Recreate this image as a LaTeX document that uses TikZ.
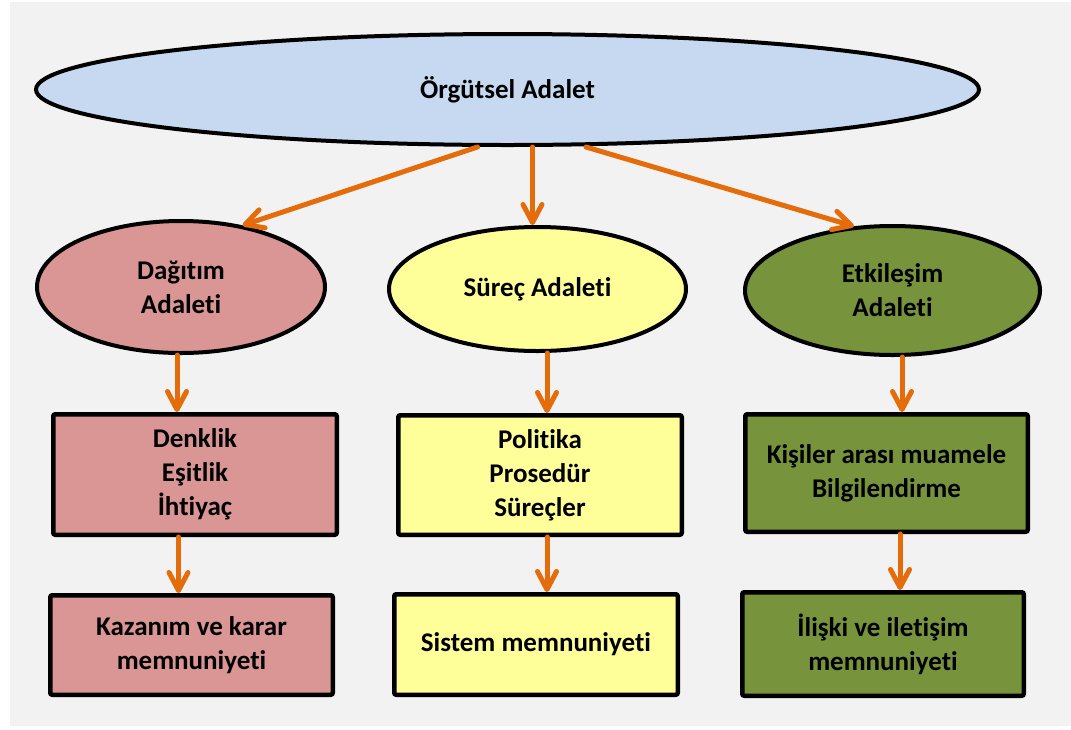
\documentclass[tikz,border=0pt]{standalone}
\usepackage{fontspec}
\setmainfont{Carlito}[Ligatures={NoCommon,NoContextual}]
\usetikzlibrary{shapes.geometric,arrows.meta}

\definecolor{paper}{HTML}{F2F2F2}
\definecolor{skyfill}{HTML}{C6D9F1}
\definecolor{rosefill}{HTML}{D99694}
\definecolor{lemonfill}{HTML}{FFFF99}
\definecolor{olivefill}{HTML}{77933C}
\definecolor{flowline}{HTML}{E46C0A}

\begin{document}
\begin{tikzpicture}[x=1pt,y=-1pt,
  lbl/.style={font=\fontsize{27}{34}\selectfont\bfseries,align=center,text=black},
  oval/.style={ellipse,draw=black,line width=4pt,inner sep=0pt,lbl},
  card/.style={rectangle,draw=black,line width=4.5pt,inner sep=0pt,rounded corners=2pt,lbl},
  flow/.style={draw=flowline,line width=5pt,line cap=round,
    -{Straight Barb[length=18pt,width=19pt,round]}}]

% canvas
\useasboundingbox (0,0) rectangle (1071,729);
\fill[white] (0,0) rectangle (1071,729);
\fill[paper] (10,2) rectangle (1071,726);

% top concept
\node[oval,fill=skyfill,minimum width=943pt,minimum height=111pt] (org) at (507.5,89.5) {Örgütsel Adalet};

% three dimensions
\node[oval,fill=rosefill,minimum width=288pt,minimum height=132pt] (dag) at (181,287) {Dağıtım\\Adaleti};
\node[oval,fill=lemonfill,minimum width=297pt,minimum height=124pt] (sur) at (537.5,289) {Süreç Adaleti};
\node[oval,fill=olivefill,minimum width=295pt,minimum height=129pt] (eti) at (892.5,290.5) {Etkileşim\\Adaleti};

% criteria
\node[card,fill=rosefill,minimum width=283.5pt,minimum height=120.5pt] (dkl) at (195,474.5) {Denklik\\Eşitlik\\İhtiyaç};
\node[card,fill=lemonfill,minimum width=283.5pt,minimum height=119.5pt] (pol) at (540,475) {Politika\\Prosedür\\Süreçler};
\node[card,fill=olivefill,minimum width=282.5pt,minimum height=117.5pt] (kis) at (886.5,473) {Kişiler arası muamele\\Bilgilendirme};

% outcomes
\node[card,fill=rosefill,minimum width=282.5pt,minimum height=99.5pt] (kaz) at (191.5,645) {Kazanım ve karar\\memnuniyeti};
\node[card,fill=lemonfill,minimum width=283.5pt,minimum height=100.5pt] (sis) at (536,644.5) {Sistem memnuniyeti};
\node[card,fill=olivefill,minimum width=281.5pt,minimum height=103.5pt] (ili) at (883,644) {İlişki ve iletişim\\memnuniyeti};

% connectors
\draw[flow] ([xshift=-30pt]org.south) -- (dag.45);
\draw[flow] ([xshift=25pt]org.south) -- ([xshift=25pt]org.south |- sur.north);
\draw[flow] ([xshift=78.5pt]org.south) -- (eti.121);

\draw[flow] ([xshift=-4pt]dag.south) -- ([xshift=-4pt]dag.south |- dkl.north);
\draw[flow] ([xshift=9.5pt]sur.south) -- ([xshift=9.5pt]sur.south |- pol.north);
\draw[flow] ([xshift=9.5pt]eti.south) -- ([xshift=9.5pt]eti.south |- kis.north);

\draw[flow] ([xshift=-16.5pt]dkl.south) -- ([xshift=-16.5pt]dkl.south |- kaz.north);
\draw[flow] ([xshift=7pt]pol.south) -- ([xshift=7pt]pol.south |- sis.north);
\draw[flow] ([xshift=13.5pt]kis.south) -- ([xshift=13.5pt]kis.south |- ili.north);
\end{tikzpicture}
\end{document}
